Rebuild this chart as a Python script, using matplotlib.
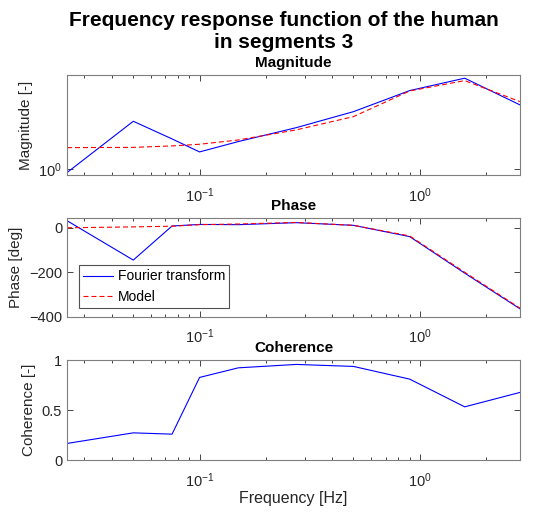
import numpy as np
import matplotlib
matplotlib.use("Agg")
import matplotlib.pyplot as plt
from matplotlib.ticker import LogLocator, NullLocator, FixedLocator

plt.rcParams["font.family"] = ["Liberation Sans", "DejaVu Sans"]
plt.rcParams["mathtext.fontset"] = "custom"
plt.rcParams["mathtext.rm"] = "Liberation Sans"
plt.rcParams["mathtext.default"] = "regular"

# --------------------------------------------------
# Data
# --------------------------------------------------
freq = [0.025, 0.05, 0.075, 0.1, 0.15, 0.275, 0.5, 0.9, 1.6, 2.85]

mag_ft = [0.976, 1.404, 1.239, 1.130, 1.216, 1.342, 1.503, 1.745, 1.905, 1.577]
mag_model = [1.165, 1.167, 1.179, 1.193, 1.230, 1.321, 1.451, 1.740, 1.873, 1.614]

phase_ft = [33, -145, 9, 16, 15, 24, 12, -39, -204, -365]
phase_model = [1, 5, 8, 15, 18, 25, 12, -36, -200, -362]

coherence = [0.167, 0.273, 0.26, 0.827, 0.923, 0.957, 0.937, 0.81, 0.533, 0.677]

grey = "#262626"
axcol = "#7f7f7f"
dash = (0, (4.5, 2.7))

fig = plt.figure(figsize=(5.36, 5.13), dpi=100)
ax_mag = fig.add_axes([0.125, 0.659, 0.845, 0.195])
ax_ph = fig.add_axes([0.125, 0.383, 0.845, 0.192])
ax_coh = fig.add_axes([0.125, 0.103, 0.845, 0.195])


def style(ax):
    ax.set_xscale("log")
    ax.set_xlim(0.025, 2.85)
    ax.xaxis.set_major_locator(FixedLocator([0.1, 1.0]))
    ax.xaxis.set_minor_locator(LogLocator(base=10, subs=np.arange(2, 10)))
    ax.tick_params(which="both", direction="in", top=True, right=True,
                   colors=grey, labelsize=10.5, labelcolor=grey)
    ax.tick_params(which="major", length=4, width=0.6)
    ax.tick_params(which="minor", length=2.5, width=0.6)
    ax.tick_params(axis="x", which="major", pad=8)
    for s in ax.spines.values():
        s.set_color(axcol)
        s.set_linewidth(0.8)


# --------------------------------------------------
# Magnitude
# --------------------------------------------------
ax_mag.plot(freq, mag_ft, color="blue", linewidth=0.8)
ax_mag.plot(freq, mag_model, color="red", linestyle=dash, linewidth=0.8)
style(ax_mag)
ax_mag.set_yscale("log")
ax_mag.set_ylim(0.96, 1.95)
ax_mag.yaxis.set_major_locator(FixedLocator([1.0]))
ax_mag.yaxis.set_minor_locator(NullLocator())
ax_mag.set_ylabel("Magnitude [-]", fontsize=11, color=grey)
ax_mag.set_title("Magnitude", fontsize=11, fontweight="bold", pad=5.5)

# --------------------------------------------------
# Phase
# --------------------------------------------------
ax_ph.plot(freq, phase_ft, color="blue", linewidth=0.8, label="Fourier transform")
ax_ph.plot(freq, phase_model, color="red", linestyle=dash, linewidth=0.8, label="Model")
style(ax_ph)
ax_ph.set_ylim(-400, 45)
ax_ph.set_yticks([-400, -200, 0])
ax_ph.set_ylabel("Phase [deg]", fontsize=11, color=grey)
ax_ph.set_title("Phase", fontsize=11, fontweight="bold", pad=5.5)
leg = ax_ph.legend(loc="lower left", fontsize=10, frameon=True, fancybox=False,
                   borderpad=0.3, handlelength=2.2, handletextpad=0.3,
                   labelspacing=0.45, borderaxespad=0,
                   bbox_to_anchor=(0.026, 0.088))
leg.get_frame().set_edgecolor(grey)
leg.get_frame().set_linewidth(0.8)

# --------------------------------------------------
# Coherence
# --------------------------------------------------
ax_coh.plot(freq, coherence, color="blue", linewidth=0.8)
style(ax_coh)
ax_coh.set_ylim(0, 1)
ax_coh.set_yticks([0, 0.5, 1])
ax_coh.set_yticklabels(["0", "0.5", "1"])
ax_coh.set_ylabel("Coherence [-]", fontsize=11, color=grey)
ax_coh.set_title("Coherence", fontsize=11, fontweight="bold", pad=5.5)
ax_coh.set_xlabel("Frequency [Hz]", fontsize=11.5, color=grey, labelpad=1)

fig.text(0.53, 0.9386, "Frequency response function of the human\nin segments 3",
         ha="center", va="center", fontsize=15, fontweight="bold",
         linespacing=1.25)

fig.savefig("out.png", dpi=100, facecolor="white")
